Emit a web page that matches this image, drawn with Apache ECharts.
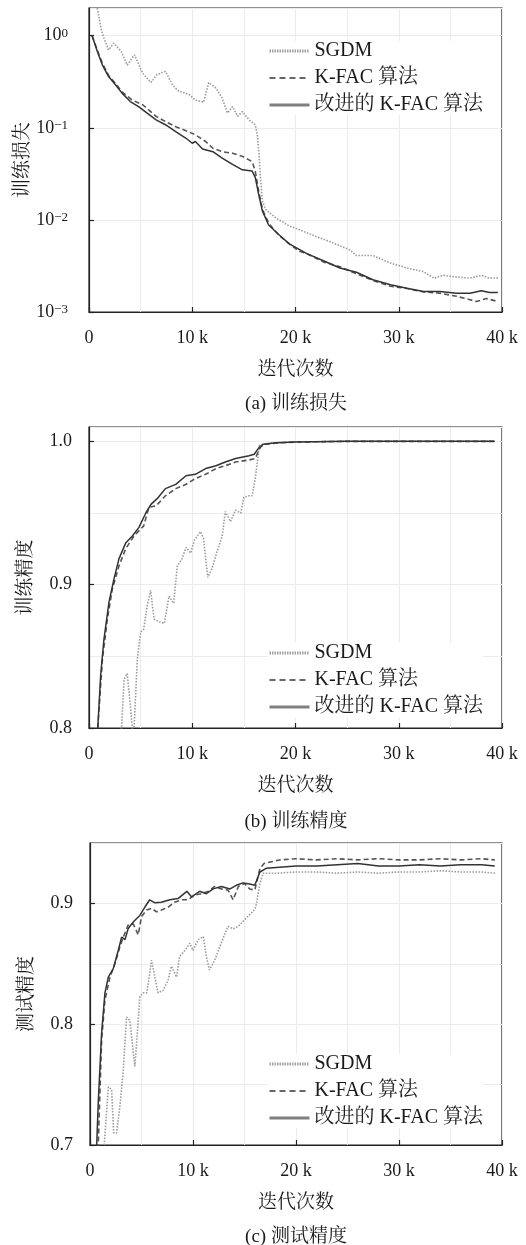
<!DOCTYPE html>
<html><head><meta charset="utf-8">
<script src="https://cdn.jsdelivr.net/npm/echarts/dist/echarts.min.js"></script>
<style>html,body{margin:0;padding:0;background:#fff}#c{width:526px;height:1245px}</style>
</head><body><div id="c"></div>
<script>
// x values in thousands of iterations
const xTicks = [0, 10, 20, 30, 40];
const seriesNames = ['SGDM', 'K-FAC 算法', '改进的 K-FAC 算法'];
const captions = ['(a) 训练损失', '(b) 训练精度', '(c) 测试精度'];
const yNames = ['训练损失', '训练精度', '测试精度'];
const xName = '迭代次数';

// (a) training loss
const lossSgdmX = [0,0.8,1.2,1.45,1.9,2.4,3.1,3.7,4.4,5.2,6.0,6.6,7.4,8.1,8.7,9.7,10.3,11.1,11.6,12.3,12.9,13.4,13.9,14.4,14.85,15.5,16.1,16.3,16.45,16.6,16.8,17.1,18.1,19.4,20.4,22.0,23.7,25.3,25.9,27.5,29.2,30.8,32.4,33.4,34.3,35.6,36.9,38.0,38.8,39.6];
const lossSgdmY = [3.5,2.0,1.15,0.94,0.70,0.83,0.68,0.48,0.62,0.39,0.31,0.38,0.41,0.29,0.25,0.23,0.20,0.19,0.31,0.27,0.21,0.145,0.17,0.133,0.15,0.122,0.108,0.084,0.055,0.029,0.016,0.013,0.0105,0.0086,0.0078,0.0066,0.0056,0.0047,0.0041,0.0041,0.0034,0.0030,0.00274,0.00233,0.0025,0.0024,0.00233,0.0025,0.00233,0.00235];
const lossKfacX = [0.3,0.8,1.3,1.9,2.6,3.2,4.2,5.2,6.5,7.4,8.4,9.4,10.3,11.3,12.0,12.9,13.9,14.85,15.8,16.1,16.45,16.8,17.4,18.4,19.4,20.3,21.1,22.7,24.3,25.9,27.5,29.2,30.8,32.4,34.0,35.6,36.9,37.5,38.5,39.6];
const lossKfacY = [1.0,0.70,0.50,0.37,0.30,0.245,0.20,0.178,0.133,0.117,0.103,0.093,0.084,0.071,0.060,0.055,0.053,0.049,0.043,0.034,0.020,0.013,0.0092,0.0068,0.0055,0.0046,0.0043,0.0035,0.0031,0.0026,0.0022,0.0019,0.0018,0.00165,0.0016,0.00148,0.00136,0.0013,0.0014,0.0013];
const lossOursX = [0.3,0.8,1.3,1.9,2.6,3.2,4.0,4.8,5.6,6.5,7.4,8.4,9.4,10.0,10.3,11.0,12.0,12.9,13.9,14.85,15.8,16.1,16.45,16.8,17.4,18.4,19.4,21.1,22.7,24.3,25.9,27.5,29.2,30.8,32.4,34.0,35.6,36.9,38.0,38.8,39.6];
const lossOursY = [1.0,0.68,0.48,0.36,0.29,0.238,0.193,0.17,0.145,0.122,0.108,0.091,0.077,0.068,0.071,0.059,0.055,0.047,0.040,0.035,0.034,0.029,0.0186,0.0124,0.0088,0.0069,0.0055,0.0043,0.0036,0.0030,0.0027,0.00224,0.00198,0.00181,0.00167,0.00167,0.0016,0.0016,0.0017,0.00163,0.00163];

// (b) training accuracy
const trainSgdmX = [3.0,3.4,3.7,4.04,4.3,4.68,5.0,5.3,5.65,5.97,6.3,6.8,7.3,7.75,8.2,8.55,9.0,9.4,9.85,10.2,10.8,11.1,11.5,11.9,12.4,12.9,13.2,13.7,14.2,14.7,15.0,15.5,15.8,16.1,16.5,16.8,18.0,20.0,25.0,30.0,35.0,39.3];
const trainSgdmY = [0.78,0.834,0.838,0.813,0.79,0.848,0.867,0.869,0.886,0.896,0.876,0.874,0.873,0.892,0.887,0.913,0.918,0.926,0.922,0.931,0.937,0.932,0.905,0.911,0.923,0.934,0.951,0.944,0.952,0.950,0.961,0.962,0.962,0.974,0.997,0.998,0.999,0.9995,1.0,1.0,1.0,1.0];
const trainKfacX = [0.6,0.85,1.3,1.78,2.26,2.9,3.55,4.36,5.3,5.8,6.5,7.4,8.4,9.4,10.3,11.3,12.3,13.2,14.2,15.5,16.1,16.6,17.1,18.5,20.0,25.0,30.0,35.0,39.3];
const trainKfacY = [0.75,0.80,0.848,0.876,0.897,0.913,0.925,0.934,0.941,0.954,0.955,0.962,0.967,0.970,0.974,0.977,0.981,0.983,0.9856,0.987,0.988,0.996,0.998,0.999,0.9995,1.0,1.0,1.0,1.0];
const trainOursX = [0.6,0.85,1.13,1.45,1.94,2.42,2.9,3.55,4.2,4.84,5.5,6.0,6.6,7.4,8.4,9.4,10.3,11.3,12.3,13.2,14.2,15.5,16.0,16.5,16.9,18.1,20.0,25.0,30.0,35.0,39.3];
const trainOursY = [0.75,0.80,0.837,0.862,0.888,0.904,0.918,0.929,0.934,0.940,0.950,0.956,0.960,0.967,0.970,0.976,0.977,0.981,0.983,0.9856,0.988,0.990,0.991,0.996,0.998,0.999,0.9995,1.0,1.0,1.0,1.0];

// (c) test accuracy
const testSgdmX = [1.3,1.78,2.1,2.3,2.58,2.9,3.23,3.55,3.87,4.13,4.36,4.68,4.84,5.17,5.5,5.8,5.97,6.3,6.6,7.1,7.6,7.9,8.4,8.7,9.2,9.7,10.0,10.5,11.0,11.3,11.6,12.1,12.6,13.1,13.4,13.9,14.4,14.85,15.3,15.8,16.1,16.5,16.8,18.1,20.0,22.0,24.0,26.0,28.0,30.0,32.0,34.0,36.0,38.0,39.3];
const testSgdmY = [0.69,0.748,0.746,0.710,0.710,0.732,0.762,0.806,0.803,0.782,0.765,0.803,0.823,0.826,0.826,0.842,0.853,0.839,0.826,0.828,0.837,0.848,0.839,0.856,0.861,0.867,0.861,0.870,0.8725,0.856,0.845,0.853,0.864,0.875,0.881,0.879,0.881,0.885,0.889,0.893,0.897,0.9165,0.925,0.925,0.926,0.926,0.925,0.926,0.925,0.926,0.926,0.927,0.926,0.926,0.925];
const testKfacX = [0.5,0.8,1.13,1.45,1.94,2.42,2.9,3.23,3.7,4.2,4.68,5.0,5.5,5.97,6.46,6.94,7.6,8.2,8.9,9.5,10.2,10.8,11.5,12.1,12.75,13.4,13.9,14.4,15.0,15.5,16.0,16.5,16.9,18.4,20.0,22.0,24.0,26.0,28.0,30.0,32.0,34.0,36.0,38.0,39.3];
const testKfacY = [0.65,0.70,0.787,0.820,0.839,0.850,0.864,0.872,0.882,0.883,0.874,0.889,0.8945,0.896,0.893,0.8945,0.897,0.901,0.903,0.903,0.907,0.908,0.910,0.914,0.912,0.911,0.903,0.914,0.9165,0.912,0.911,0.929,0.933,0.936,0.937,0.936,0.937,0.936,0.937,0.936,0.936,0.937,0.936,0.937,0.936];
const testOursX = [0.4,0.65,0.8,1.13,1.45,1.78,2.26,2.74,3.07,3.4,3.7,4.04,4.36,4.84,5.33,5.8,6.3,6.94,7.75,8.55,9.4,9.85,10.65,11.3,11.95,12.75,13.6,14.2,14.85,15.5,16.0,16.5,17.1,18.4,20.0,22.0,24.0,26.0,28.0,30.0,32.0,34.0,36.0,38.0,39.3];
const testOursY = [0.65,0.70,0.735,0.793,0.826,0.839,0.846,0.861,0.872,0.870,0.879,0.883,0.886,0.890,0.897,0.903,0.9005,0.901,0.903,0.904,0.910,0.9055,0.910,0.908,0.912,0.914,0.912,0.915,0.917,0.916,0.915,0.926,0.929,0.930,0.931,0.931,0.932,0.933,0.931,0.931,0.932,0.931,0.932,0.932,0.931];

const zip = (xs, ys) => xs.map((x, i) => [x, ys[i]]);

const FONT = "'Liberation Serif', 'Noto Serif CJK SC', 'Noto Sans CJK SC', serif";
const TXT = '#1a1a1a';
const FAINT = '#ececec';

const panels = [
  {top: 8, height: 304, left: 89, data: [zip(lossSgdmX, lossSgdmY), zip(lossKfacX, lossKfacY), zip(lossOursX, lossOursY)], log: true, legendTop: 40, nameGap: 56},
  {top: 427, height: 301, left: 89, data: [zip(trainSgdmX, trainSgdmY), zip(trainKfacX, trainKfacY), zip(trainOursX, trainOursY)], min: 0.8, max: 1.01, legendTop: 642, nameGap: 53},
  {top: 843, height: 302, left: 90, data: [zip(testSgdmX, testSgdmY), zip(testKfacX, testKfacY), zip(testOursX, testOursY)], min: 0.7, max: 0.95, legendTop: 1053, nameGap: 53}
];

const styles = [
  {color: '#9a9a9a', type: [1.5, 1.5], width: 1.6},
  {color: '#555555', type: [5, 3], width: 1.6},
  {color: '#333333', type: 'solid', width: 1.5}
];
const legendStyles = [
  {color: '#a0a0a0', type: [1.5, 1], width: 3},
  {color: '#666666', type: [6, 4], width: 2.2},
  {color: '#808080', type: 'solid', width: 3}
];

const supMap = {'0': '0', '-1': '−1', '-2': '−2', '-3': '−3'};

const option = {
  backgroundColor: '#fff',
  animation: false,
  textStyle: {fontFamily: FONT, color: TXT},
  grid: [], xAxis: [], yAxis: [], series: [], legend: [], title: []
};

panels.forEach((p, i) => {
  option.grid.push({left: p.left, top: p.top, width: 502 - p.left, height: p.height, show: true,
    borderColor: '#222', borderWidth: 1.2, backgroundColor: 'transparent', outerBoundsMode: 'none', containLabel: false});
  option.xAxis.push({
    type: 'value', gridIndex: i, min: 0, max: 40, interval: 10,
    name: xName, nameLocation: 'middle', nameGap: 49, nameMoveOverlap: false,
    nameTextStyle: {fontFamily: FONT, fontSize: 19, color: TXT},
    axisLine: {show: true, onZero: false, lineStyle: {color: '#222', width: 1.2}},
    axisTick: {show: true, inside: true, length: 5, lineStyle: {color: '#222', width: 1.2}},
    axisLabel: {fontFamily: FONT, fontSize: 18, color: TXT, margin: 17,
      formatter: v => xTicks.includes(v) ? (v === 0 ? '0' : v + ' k') : ''},
    splitLine: {show: true, lineStyle: {color: FAINT, width: 1}},
    minorTick: {show: false, splitNumber: 2},
    minorSplitLine: {show: true, lineStyle: {color: FAINT, width: 1}}
  });
  const y = {
    gridIndex: i,
    name: yNames[i], nameLocation: 'middle', nameGap: p.nameGap, nameRotate: 90, nameMoveOverlap: false,
    nameTextStyle: {fontFamily: FONT, fontSize: 19, color: TXT},
    axisLine: {show: true, lineStyle: {color: '#222', width: 1.2}},
    axisTick: {show: true, inside: true, length: 5, lineStyle: {color: '#222', width: 1.2}},
    splitLine: {show: true, lineStyle: {color: FAINT, width: 1}}
  };
  if (p.log) {
    Object.assign(y, {type: 'log', logBase: 10, min: 0.001, max: 2,
      axisLabel: {fontFamily: FONT, fontSize: 18, color: TXT, margin: 21, showMaxLabel: false,
        formatter: v => {
          const e = Math.log10(v), r = Math.round(e);
          if (Math.abs(e - r) > 1e-6) return '';
          return '10{sup|' + supMap[String(r)] + '}';
        },
        rich: {sup: {fontFamily: FONT, fontSize: 13, color: TXT, verticalAlign: 'top', lineHeight: 13}}
      }});
  } else {
    Object.assign(y, {type: 'value', min: p.min, max: p.max, interval: 0.1,
      axisLabel: {fontFamily: FONT, fontSize: 18, color: TXT, margin: 17, showMaxLabel: false,
        formatter: v => {
          const k = Math.round(v * 10);
          return Math.abs(v * 10 - k) < 1e-6 ? (k / 10).toFixed(1) : '';
        }},
      minorTick: {show: false, splitNumber: 2},
      minorSplitLine: {show: true, lineStyle: {color: FAINT, width: 1}}
    });
  }
  option.yAxis.push(y);
  seriesNames.forEach((n, s) => {
    option.series.push({
      type: 'line', name: n, xAxisIndex: i, yAxisIndex: i, data: p.data[s],
      symbol: 'none', showSymbol: false, clip: true, z: 2 + s,
      lineStyle: Object.assign({}, styles[s]), itemStyle: {color: styles[s].color}
    });
  });
  option.legend.push({
    orient: 'vertical', left: 268, top: p.legendTop + 1, padding: 0, itemGap: 7,
    itemWidth: 40, itemHeight: 10, align: 'left', backgroundColor: '#fff',
    textStyle: {fontFamily: FONT, fontSize: 20, color: TXT},
    selectedMode: false,
    data: seriesNames.map((n, s) => ({name: n, lineStyle: legendStyles[s], itemStyle: {color: legendStyles[s].color, opacity: 0}}))
  });
  option.title.push({
    text: captions[i], left: 296, top: [395, 813, 1228][i], textAlign: 'center', padding: 0,
    textStyle: {fontFamily: FONT, fontSize: 19, fontWeight: 'normal', color: TXT}
  });
});

const chart = echarts.init(document.getElementById('c'), null, {renderer: 'canvas'});
chart.setOption(option);
</script>
</body></html>
